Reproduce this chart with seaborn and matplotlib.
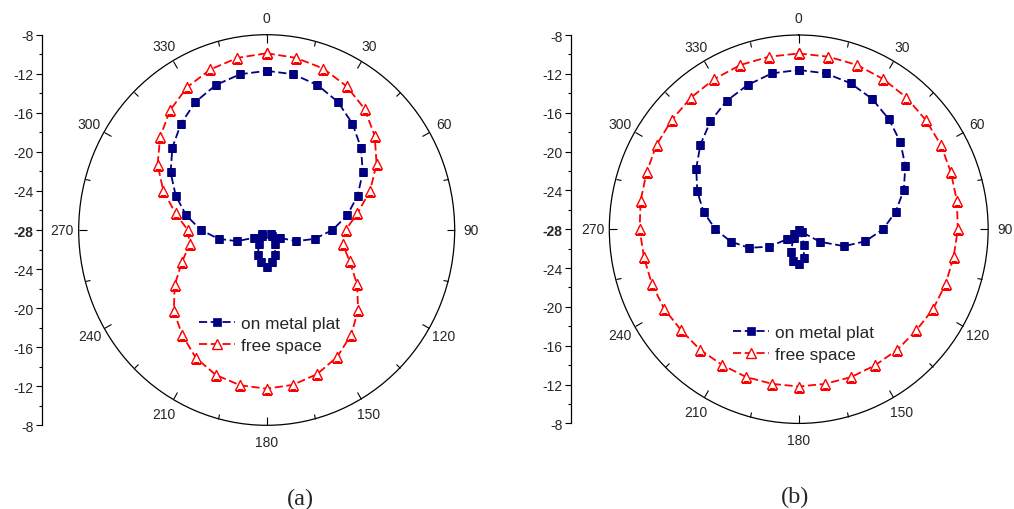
import numpy as np
import pandas as pd
import matplotlib
matplotlib.use("Agg")
import matplotlib.pyplot as plt
import seaborn as sns

# ------------------------------------------------------------
# datos (dB), un punto cada 10 grados
# ------------------------------------------------------------
angulos = np.arange(0, 360, 10)

# panel (a)
metal_a = [-11.7, -11.8, -12.2, -12.85, -13.8, -14.9, -16.2, -17.7, -19.3,
           -21.0, -22.8, -24.65, -26.4, -27.4, -27.2, -26.3, -25.3, -24.7,
           -24.25, -24.7, -25.3, -26.3, -27.2, -27.4, -26.4, -24.65, -22.8,
           -21.0, -19.3, -17.7, -16.2, -14.9, -13.8, -12.85, -12.2, -11.8]
libre_a = [-9.9, -10.1, -10.4, -11.0, -11.8, -13.0, -14.5, -16.3, -18.2,
           -19.6, -19.8, -18.6, -16.9, -15.3, -14.0, -13.0, -12.3, -11.9,
           -11.75, -11.85, -12.2, -12.9, -14.0, -15.1, -16.7, -18.4, -19.7,
           -19.6, -18.15, -16.3, -14.6, -13.2, -12.0, -11.1, -10.5, -10.1]

# panel (b)
metal_b = [-11.6, -11.7, -12.0, -12.5, -13.2, -14.0, -15.0, -16.2, -17.6,
           -19.1, -20.85, -22.9, -25.4, -27.5, -27.9, -27.7, -26.3, -25.0,
           -24.4, -24.7, -25.5, -26.9, -27.3, -26.4, -24.4, -22.4, -20.7,
           -19.2, -17.8, -16.6, -15.5, -14.45, -13.5, -12.75, -12.2, -11.7]
libre_b = [-9.9, -9.96, -10.0, -10.15, -10.3, -10.5, -10.66, -10.9, -11.05,
           -11.2, -11.4, -11.5, -11.6, -11.8, -11.8, -11.83, -11.8, -11.83,
           -11.8, -11.83, -11.8, -11.85, -11.8, -11.8, -11.6, -11.5, -11.4,
           -11.2, -11.05, -10.9, -10.66, -10.5, -10.3, -10.15, -10.0, -9.96]

R_MIN, R_MAX = -28, -8
ticks_theta = np.arange(0, 360, 30)
etiquetas_theta = [str(a) for a in ticks_theta]
ticks_eje = np.arange(-20, 21, 4)            # desplazamiento desde el centro
etiquetas_eje = [str(R_MIN + abs(v)) for v in ticks_eje]

AZUL = "#000080"
ROJO = "#FF0000"

sns.set_theme(style="white")
plt.rcParams["font.family"] = ["Liberation Sans", "DejaVu Sans"]
plt.rcParams["axes.edgecolor"] = "black"


def curva(valores):
    # cerrar el lazo repitiendo el primer punto en 360
    return pd.DataFrame({
        "theta": np.deg2rad(np.append(angulos, 360)),
        "r": np.append(valores, valores[0]),
    })


def panel(fig, caja, x_eje, metal, libre, pos_leyenda, letra, pos_letra):
    ax = fig.add_axes(caja, projection="polar")
    sns.lineplot(data=curva(metal), x="theta", y="r", ax=ax, sort=False,
                 estimator=None, color=AZUL, lw=1.3, linestyle=(0, (4.5, 2)),
                 marker="s", markersize=5.5, mec=AZUL, mfc=AZUL, mew=0.5,
                 label="on metal plat")
    sns.lineplot(data=curva(libre), x="theta", y="r", ax=ax, sort=False,
                 estimator=None, color=ROJO, lw=1.3, linestyle=(0, (4.5, 2)),
                 marker="^", markersize=7, mec=ROJO, mfc="white", mew=1.0,
                 label="free space")
    ax.set_theta_zero_location("N")
    ax.set_theta_direction(-1)
    ax.set_ylim(R_MIN, R_MAX)
    ax.set_aspect("auto")
    ax.grid(False)
    ax.set_yticks([])
    ax.set_xlabel("")
    ax.set_ylabel("")
    ax.set_xticks(np.deg2rad(ticks_theta))
    ax.set_xticklabels(etiquetas_theta, fontsize=10)
    ax.set_xticks(np.deg2rad(ticks_theta + 15), minor=True)
    ax.tick_params(axis="x", which="both", direction="in", pad=5,
                   bottom=False, top=True, color="black", width=0.8)
    ax.tick_params(axis="x", which="major", length=6)
    ax.tick_params(axis="x", which="minor", length=4)
    ax.spines["polar"].set_linewidth(0.9)
    ax.legend(loc="upper left", bbox_to_anchor=pos_leyenda,
              bbox_transform=fig.transFigure, frameon=False, fontsize=12.4,
              handlelength=2.1, handletextpad=0.35, labelspacing=0.42,
              borderpad=0, borderaxespad=0)

    # eje radial vertical a la izquierda
    ay = fig.add_axes([x_eje, caja[1], 0.001, caja[3]])
    ay.set_ylim(-20, 20)
    ay.set_yticks(ticks_eje)
    ay.set_yticklabels(etiquetas_eje, fontsize=10)
    ay.set_yticks(np.arange(-18, 20, 4), minor=True)
    ay.set_xticks([])
    for lado in ["top", "right", "bottom"]:
        ay.spines[lado].set_visible(False)
    ay.spines["left"].set_linewidth(0.9)
    ay.tick_params(axis="y", which="both", direction="out", left=True,
                   color="black", width=0.8, pad=2)
    ay.tick_params(axis="y", which="major", length=4)
    ay.tick_params(axis="y", which="minor", length=2.5)
    ay.patch.set_visible(False)
    for t in ay.get_yticklabels():
        if t.get_text() == str(R_MIN):
            t.set_fontweight("bold")

    fig.text(pos_letra[0], pos_letra[1], letra, ha="center", va="center",
             fontsize=17.5, family="Liberation Serif")


fig = plt.figure(figsize=(10.14, 5.10), dpi=100)

panel(fig, [0.0776, 0.1641, 0.3708, 0.7659], 0.0411, metal_a, libre_a,
      (199 / 1014, 1 - 317 / 510), "(a)", (300 / 1014, 1 - 499 / 510))
panel(fig, [0.6009, 0.1678, 0.3736, 0.7616], 0.5631, metal_b, libre_b,
      (733 / 1014, 1 - 326 / 510), "(b)", (795 / 1014, 1 - 497 / 510))

fig.savefig("out.png", dpi=100)
